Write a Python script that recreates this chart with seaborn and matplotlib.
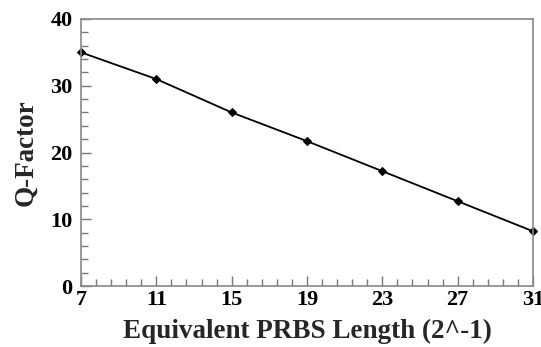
import matplotlib
matplotlib.use("Agg")
import matplotlib.pyplot as plt
from matplotlib.ticker import AutoMinorLocator
import seaborn as sns
import pandas as pd

prbs_length = [7, 11, 15, 19, 23, 27, 31]
q_factor = [35.0, 31.0, 26.0, 21.7, 17.2, 12.7, 8.2]
x_ticks = [7, 11, 15, 19, 23, 27, 31]
y_ticks = [0, 10, 20, 30, 40]

sns.set_style("ticks")
plt.rcParams['font.family'] = ['Liberation Serif', 'DejaVu Serif']

df = pd.DataFrame({"x": prbs_length, "y": q_factor})

fig = plt.figure(figsize=(5.41, 3.47), dpi=100)
ax = fig.add_axes([81/541, 1-286/347, (533-81)/541, (286-19)/347])
sns.lineplot(data=df, x="x", y="y", ax=ax, color="black", linewidth=1.3,
             marker="D", markersize=4, markeredgecolor="black", clip_on=False)

ax.set_xlim(7, 31)
ax.set_ylim(0, 40)
ax.set_xticks(x_ticks)
ax.set_yticks(y_ticks)
ax.xaxis.set_minor_locator(AutoMinorLocator(5))
ax.yaxis.set_minor_locator(AutoMinorLocator(5))
ax.tick_params(which="both", direction="in", colors="#777777", labelcolor="black",
               top=False, right=False)
ax.tick_params(which="major", length=7, width=1)
ax.tick_params(which="minor", length=5, width=1)
ax.tick_params(axis="x", pad=3)
ax.tick_params(axis="y", pad=6)
for lab in ax.get_xticklabels() + ax.get_yticklabels():
    lab.set_fontsize(16)
    lab.set_fontweight("bold")
for sp in ax.spines.values():
    sp.set_visible(True)
    sp.set_color("#888888")
    sp.set_linewidth(1.2)

ax.set_xlabel("Equivalent PRBS Length (2^-1)", fontsize=19.5, fontweight="bold", labelpad=6)
ax.set_ylabel("Q-Factor", fontsize=19.5, fontweight="bold", labelpad=9)

fig.savefig("out.png", dpi=100)
